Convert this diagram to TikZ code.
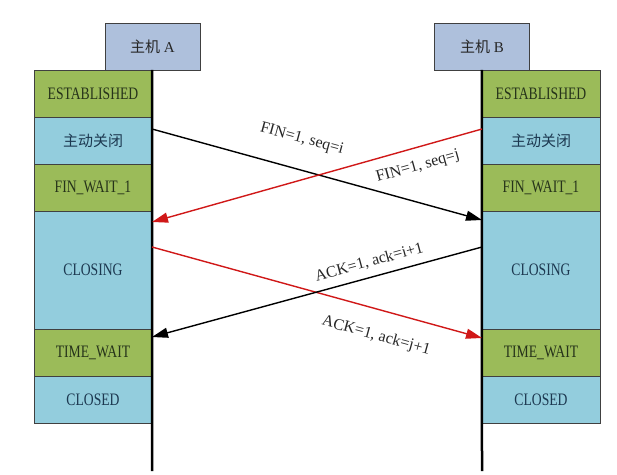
\documentclass[tikz,border=0pt]{standalone}
\usepackage{fontspec}
\setmainfont{Liberation Serif}
\newfontfamily\cjk{Noto Sans CJK SC}
\newfontfamily\statefont[FakeStretch=0.78]{Liberation Serif}
\usetikzlibrary{arrows.meta}
\definecolor{hostblue}{HTML}{AEC0DC}
\definecolor{stgreen}{HTML}{9BBB59}
\definecolor{stblue}{HTML}{93CDDD}
\definecolor{greentext}{HTML}{26331A}
\definecolor{bluetext}{HTML}{1C3850}
\definecolor{msgred}{HTML}{D01818}

\begin{document}
\begin{tikzpicture}[x=1pt,y=-1pt,
    host/.style={draw=black!75, fill=hostblue, minimum width=95pt, minimum height=47pt,
        inner sep=0pt, text=black!85, font=\fontsize{15}{17}\selectfont},
    cell/.style={draw=black!75, minimum width=118pt, minimum height=47pt, inner sep=0pt,
        font=\statefont\fontsize{17.5}{19}\selectfont},
    gcell/.style={cell, fill=stgreen, text=greentext},
    bcell/.style={cell, fill=stblue, text=bluetext},
    msg/.style={line width=1.4pt, -{Triangle[length=16pt,width=10pt]}},
    lbl/.style={sloped, text=black!85, font=\fontsize{16}{18}\selectfont}]
\useasboundingbox (0,0) rectangle (617,474);
% hosts
\node [host] (hostA) at (152.5, 46.5) {{\cjk 主机}~A};
\node [host] (hostB) at (482, 46.5) {{\cjk 主机}~B};
% states of A
\node [gcell] (estA) at (93, 93.5) {ESTABLISHED};
\node [bcell] (closeA) at (93, 140.5) {\cjk\fontsize{15}{17}\selectfont 主动关闭};
\node [gcell] (fwA) at (93, 187.5) {FIN\_WAIT\_1};
\node [bcell, minimum height=118pt] (closingA) at (93, 270) {CLOSING};
\node [gcell] (twA) at (93, 352.5) {TIME\_WAIT};
\node [bcell] (closedA) at (93, 399.5) {CLOSED};
% states of B
\node [gcell] (estB) at (541, 93.5) {ESTABLISHED};
\node [bcell] (closeB) at (541, 140.5) {\cjk\fontsize{15}{17}\selectfont 主动关闭};
\node [gcell] (fwB) at (541, 187.5) {FIN\_WAIT\_1};
\node [bcell, minimum height=118pt] (closingB) at (541, 270) {CLOSING};
\node [gcell] (twB) at (541, 352.5) {TIME\_WAIT};
\node [bcell] (closedB) at (541, 399.5) {CLOSED};
% time lines
\coordinate (endA) at (152, 471);
\coordinate (endB) at (482, 471);
\draw [line width=2.5pt] (estA.north east) -- (endA);
\draw [line width=2.5pt] (estB.north west) -- (endB);
% messages
\coordinate (finiA) at (152, 129);
\coordinate (finiB) at (482, 220);
\coordinate (finjB) at (482, 129);
\coordinate (finjA) at (152, 222);
\coordinate (ackjA) at (152, 247);
\coordinate (ackjB) at (482, 338);
\coordinate (ackiB) at (482, 247);
\coordinate (ackiA) at (152, 337);
\draw [msg] (finiA) -- node [lbl, above=19pt, pos=0.43] {FIN=1, seq=i} (finiB);
\draw [msg, msgred] (finjB) -- node [lbl, below=8pt, pos=0.21] {FIN=1, seq=j} (finjA);
\draw [msg, msgred] (ackjA) -- node [lbl, below=15pt, pos=0.7] {ACK=1, ack=j+1} (ackjB);
\draw [msg] (ackiB) -- node [lbl, above=4pt, pos=0.33] {ACK=1, ack=i+1} (ackiA);
\end{tikzpicture}
\end{document}
